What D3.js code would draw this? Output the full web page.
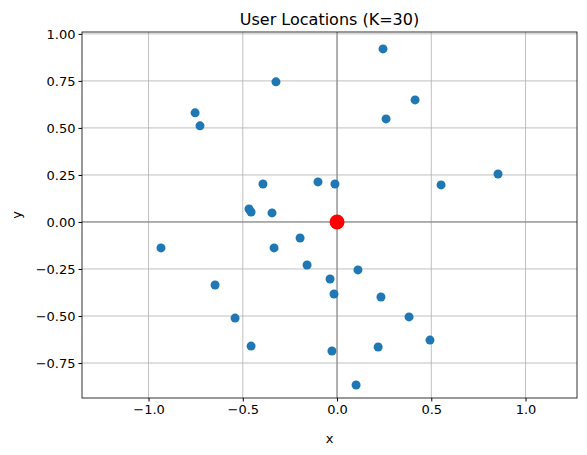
<!DOCTYPE html>
<html lang="en">
<head>
<meta charset="utf-8">
<title>User Locations</title>
<script src="https://cdn.jsdelivr.net/npm/d3@7"></script>
<style>
  body { margin: 0; background: #fff; }
  text { font-family: "DejaVu Sans", sans-serif; }
</style>
</head>
<body>
<script>
// user positions
var xs = [0.244, -0.324, 0.414, -0.753, -0.727, 0.26, -0.393, -0.101, -0.011, 0.552,
          0.854, -0.467, -0.456, -0.345, -0.196, -0.934, -0.334, -0.159, 0.111, -0.037,
          -0.016, -0.647, 0.233, -0.541, 0.382, 0.493, -0.456, 0.218, -0.027, 0.101];
var ys = [0.92, 0.745, 0.649, 0.58, 0.511, 0.548, 0.202, 0.213, 0.202, 0.197,
          0.255, 0.069, 0.053, 0.048, -0.085, -0.138, -0.138, -0.229, -0.255, -0.303,
          -0.383, -0.335, -0.399, -0.511, -0.505, -0.628, -0.66, -0.665, -0.686, -0.867];
var center = [0, 0];
var xTicks = [-1.0, -0.5, 0.0, 0.5, 1.0];
var yTicks = [-0.75, -0.5, -0.25, 0.0, 0.25, 0.5, 0.75, 1.0];

var w = 587, h = 455;
var m = {left: 82, right: 10, top: 32, bottom: 57};
var iw = w - m.left - m.right, ih = h - m.top - m.bottom;

var x = d3.scaleLinear().domain([-1.353, 1.273]).range([0, iw]);
var y = d3.scaleLinear().domain([-0.936, 1.01]).range([ih, 0]);

var svg = d3.select("body").append("svg").attr("width", w).attr("height", h);
var g = svg.append("g").attr("transform", "translate(" + m.left + "," + m.top + ")");

// grid
g.selectAll(".gx").data(xTicks).enter().append("line")
  .attr("x1", d => x(d)).attr("x2", d => x(d)).attr("y1", 0).attr("y2", ih)
  .attr("stroke", "#b0b0b0").attr("stroke-width", 0.8);
g.selectAll(".gy").data(yTicks).enter().append("line")
  .attr("y1", d => y(d)).attr("y2", d => y(d)).attr("x1", 0).attr("x2", iw)
  .attr("stroke", "#b0b0b0").attr("stroke-width", 0.8);

// zero lines
g.append("line").attr("x1", x(0)).attr("x2", x(0)).attr("y1", 0).attr("y2", ih)
  .attr("stroke", "#808080").attr("stroke-width", 1);
g.append("line").attr("y1", y(0)).attr("y2", y(0)).attr("x1", 0).attr("x2", iw)
  .attr("stroke", "#808080").attr("stroke-width", 1);

// points
g.selectAll(".pt").data(d3.range(xs.length)).enter().append("circle")
  .attr("cx", i => x(xs[i])).attr("cy", i => y(ys[i])).attr("r", 4.5)
  .attr("fill", "#1f77b4");
g.append("circle").attr("cx", x(center[0])).attr("cy", y(center[1])).attr("r", 7.5)
  .attr("fill", "red");

// axes
var xAxis = g.append("g").attr("transform", "translate(0," + ih + ")")
  .call(d3.axisBottom(x).tickValues(xTicks).tickFormat(d3.format(".1f")).tickSizeOuter(0).tickSize(3.5));
var yAxis = g.append("g")
  .call(d3.axisLeft(y).tickValues(yTicks).tickFormat(d3.format(".2f")).tickSizeOuter(0).tickSize(3.5));
[xAxis, yAxis].forEach(function(a) {
  a.select(".domain").remove();
  a.selectAll("text").attr("font-size", "13px").attr("fill", "#000")
   .style("font-family", "DejaVu Sans, sans-serif");
  a.selectAll("line").attr("stroke", "#000");
});
g.append("rect").attr("width", iw).attr("height", ih)
  .attr("fill", "none").attr("stroke", "#000").attr("stroke-width", 0.8);

svg.append("text").attr("x", m.left + iw / 2).attr("y", m.top - 7)
  .attr("text-anchor", "middle").attr("font-size", "16px").text("User Locations (K=30)");
svg.append("text").attr("x", m.left + iw / 2).attr("y", h - 12)
  .attr("text-anchor", "middle").attr("font-size", "13px").text("x");
svg.append("text").attr("transform", "translate(21," + (m.top + ih / 2) + ") rotate(-90)")
  .attr("text-anchor", "middle").attr("font-size", "13px").text("y");
</script>
</body>
</html>
